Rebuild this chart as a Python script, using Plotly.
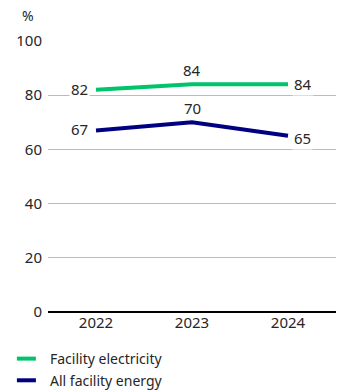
import plotly.graph_objects as go

years = ["2022", "2023", "2024"]
electricity = [82, 84, 84]
all_energy = [67, 70, 65]
series_names = ["Facility electricity", "All facility energy"]

green = "#00c36c"
navy = "#000080"
text_color = "#262626"
font_family = "Noto Sans"

fig = go.Figure()
fig.add_trace(go.Scatter(x=years, y=electricity, mode="lines", name=series_names[0],
                         line=dict(color=green, width=4)))
fig.add_trace(go.Scatter(x=years, y=all_energy, mode="lines", name=series_names[1],
                         line=dict(color=navy, width=4)))

# value labels: first to the left, middle above, last to the right
def add_labels(values, last_shift):
    for i, v in enumerate(values):
        if i == 0:
            kw = dict(xanchor="right", yanchor="middle", xshift=-6, yshift=1)
        elif i == len(values) - 1:
            kw = dict(xanchor="left", yanchor="middle", xshift=4, yshift=last_shift)
        else:
            kw = dict(xanchor="center", yanchor="bottom", xshift=0, yshift=2)
        fig.add_annotation(x=i, y=v, xref="x", yref="y", text=str(v), showarrow=False,
                           bgcolor="white", borderpad=1,
                           font=dict(size=15, color=text_color, family=font_family), **kw)

add_labels(electricity, 0)
add_labels(all_energy, -2)

# unit label above the axis
fig.add_annotation(x=0, xref="paper", xanchor="left", xshift=-28, y=1, yref="paper",
                   yanchor="bottom", yshift=14, text="%", showarrow=False,
                   font=dict(size=14, color=text_color, family=font_family))

# legend drawn below the plot: short line swatch plus name
for k, (name, col) in enumerate(zip(series_names, [green, navy])):
    ly = -0.172 - k * 0.08
    fig.add_shape(type="line", xref="paper", yref="paper", x0=-0.108, x1=-0.042,
                  y0=ly, y1=ly, line=dict(color=col, width=4))
    fig.add_annotation(x=0, xref="paper", xanchor="left", y=ly, yref="paper",
                       yanchor="middle", text=name, showarrow=False,
                       font=dict(size=14, color=text_color, family=font_family))

fig.update_layout(
    width=340, height=390,
    margin=dict(l=48, r=4, t=41, b=78, autoexpand=False),
    paper_bgcolor="white", plot_bgcolor="white",
    font=dict(family=font_family, size=15, color=text_color),
    showlegend=False,
    xaxis=dict(type="category", range=[-0.5, 2.5], showgrid=False, showline=False,
               zeroline=False, ticks="", tickfont=dict(size=15, color=text_color)),
    yaxis=dict(range=[0, 100], tickvals=[0, 20, 40, 60, 80, 100], showgrid=True,
               gridcolor="#bbbbbb", gridwidth=1, zeroline=True, zerolinecolor="#000000",
               zerolinewidth=2, showline=False, ticks="", ticklabelstandoff=5,
               tickfont=dict(size=15, color=text_color)),
)

fig.write_html("out.html")
